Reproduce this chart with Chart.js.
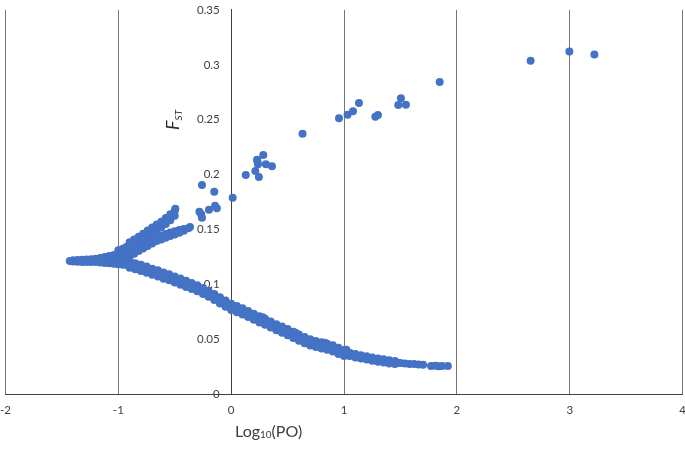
<!DOCTYPE html>
<html>
<head>
<meta charset="utf-8">
<script src="https://cdn.jsdelivr.net/npm/chart.js@4.4.1/dist/chart.umd.min.js"></script>
<style>
  body { margin: 0; background: #fff; overflow: hidden; }
  #wrap { position: relative; width: 685px; height: 452px; overflow: hidden; font-family: Lato, "Open Sans", sans-serif; color: #404040; }
  #fst-chart { position: absolute; left: -9px; top: 0; }
  #xTitle { position: absolute; left: 235px; top: 421px; font-size: 16px; white-space: nowrap; }
  #xTitle .sub { font-size: 10px; position: relative; top: 1px; }
  #yTitle { position: absolute; left: 172px; top: 120px; font-size: 18px; font-style: italic; white-space: nowrap; color: #262626;
            transform: translate(-50%, -50%) rotate(-90deg); }
  #yTitle .sub { font-size: 10px; position: relative; top: 3px; }
</style>
</head>
<body>
<div id="wrap">
  <canvas id="fst-chart" width="704" height="452"></canvas>
  <div id="xTitle">Log<span class="sub">10</span>(PO)</div>
  <div id="yTitle">F<span class="sub">ST</span></div>
</div>
<script>
// tick labels
const xTickLabels = ['-2', '-1', '0', '1', '2', '3', '4'];
const yTickLabels = ['0', '0.05', '0.1', '0.15', '0.2', '0.25', '0.3', '0.35'];

// [log10(PO), FST]
const highPoints = [
    [0.632, 0.2373], [0.955, 0.2513], [1.031, 0.2546], [1.079, 0.2577], [1.132, 0.2653],
    [1.277, 0.2528], [1.300, 0.2543], [1.480, 0.2634], [1.504, 0.2695], [1.548, 0.2637],
    [1.847, 0.2844], [2.653, 0.3036], [2.996, 0.3121], [3.218, 0.3093]
];

const midPoints = [
    [-0.259, 0.1905], [-0.150, 0.1844], [0.013, 0.1790], [0.129, 0.1996],
    [0.214, 0.2033], [0.245, 0.1978], [0.237, 0.2094], [0.229, 0.2136], [0.233, 0.2120],
    [0.284, 0.2179], [0.307, 0.2094], [0.361, 0.2076],
    [-0.282, 0.1662], [-0.266, 0.1638], [-0.259, 0.1607], [-0.197, 0.1680],
    [-0.143, 0.1717], [-0.127, 0.1693]
];

// left tail, x < -0.9
const tailPoints = [
    [-1.43, 0.1212], [-1.40, 0.1208], [-1.40, 0.1220], [-1.36, 0.1206], [-1.36, 0.1222],
    [-1.32, 0.1205], [-1.32, 0.1225], [-1.28, 0.1205], [-1.28, 0.1227],
    [-1.24, 0.1205], [-1.24, 0.1230], [-1.20, 0.1204], [-1.20, 0.1234],
    [-1.16, 0.1200], [-1.16, 0.1220], [-1.16, 0.1240],
    [-1.12, 0.1196], [-1.12, 0.1223], [-1.12, 0.1250],
    [-1.08, 0.1192], [-1.08, 0.1225], [-1.08, 0.1258],
    [-1.04, 0.1188], [-1.04, 0.1228], [-1.04, 0.1268],
    [-1.00, 0.1184], [-1.00, 0.1232], [-1.00, 0.1280], [-1.00, 0.1310],
    [-0.96, 0.1180], [-0.96, 0.1240], [-0.96, 0.1295], [-0.96, 0.1325],
    [-0.93, 0.1178], [-0.93, 0.1230], [-0.93, 0.1280], [-0.93, 0.1340]
];

// fork where the two upper branches leave
const forkPoints = [
    [-0.90, 0.1250], [-0.90, 0.1290], [-0.90, 0.1335], [-0.90, 0.1385],
    [-0.86, 0.1280], [-0.86, 0.1320], [-0.86, 0.1365], [-0.86, 0.1410],
    [-0.82, 0.1305], [-0.82, 0.1345], [-0.82, 0.1390], [-0.82, 0.1435],
    [-0.78, 0.1328], [-0.78, 0.1368], [-0.78, 0.1418], [-0.78, 0.1462],
    [-0.74, 0.1350], [-0.74, 0.1385], [-0.74, 0.1445], [-0.74, 0.1490],
    [-0.70, 0.1372], [-0.70, 0.1405], [-0.70, 0.1470], [-0.70, 0.1518],
    [-0.66, 0.1395], [-0.66, 0.1425], [-0.66, 0.1495], [-0.66, 0.1545]
];

const branchA = [
    [-0.62, 0.1520], [-0.62, 0.1570], [-0.58, 0.1550], [-0.58, 0.1605],
    [-0.54, 0.1585], [-0.54, 0.1640], [-0.50, 0.1625], [-0.50, 0.1672], [-0.495, 0.1690]
];

const branchB = [
    [-0.62, 0.1410], [-0.62, 0.1445], [-0.58, 0.1425], [-0.58, 0.1460],
    [-0.54, 0.1440], [-0.54, 0.1472], [-0.50, 0.1455], [-0.50, 0.1485],
    [-0.46, 0.1470], [-0.46, 0.1495], [-0.42, 0.1488], [-0.42, 0.1505],
    [-0.38, 0.1512], [-0.365, 0.1522]
];

// main descending branch: upper and lower edge of the band
const lowerBranch = [
    [-0.90, 0.1208], [-0.90, 0.1152], [-0.85, 0.1193], [-0.85, 0.1137],
    [-0.80, 0.1178], [-0.80, 0.1122], [-0.75, 0.1163], [-0.75, 0.1107],
    [-0.70, 0.1143], [-0.70, 0.1087], [-0.65, 0.1128], [-0.65, 0.1072],
    [-0.60, 0.1108], [-0.60, 0.1052], [-0.55, 0.1093], [-0.55, 0.1037],
    [-0.50, 0.1073], [-0.50, 0.1017], [-0.45, 0.1053], [-0.45, 0.0997],
    [-0.40, 0.1033], [-0.40, 0.0977], [-0.35, 0.1013], [-0.35, 0.0957],
    [-0.30, 0.0993], [-0.30, 0.0937], [-0.25, 0.0968], [-0.25, 0.0912],
    [-0.20, 0.0943], [-0.20, 0.0887], [-0.15, 0.0913], [-0.15, 0.0857],
    [-0.10, 0.0883], [-0.10, 0.0827], [-0.05, 0.0853], [-0.05, 0.0797],
    [0.00, 0.0823], [0.00, 0.0767], [0.05, 0.0803], [0.05, 0.0747],
    [0.10, 0.0783], [0.10, 0.0727], [0.15, 0.0758], [0.15, 0.0702],
    [0.20, 0.0733], [0.20, 0.0677], [0.25, 0.0710], [0.25, 0.0654],
    [0.30, 0.0688], [0.30, 0.0632], [0.35, 0.0663], [0.35, 0.0607],
    [0.40, 0.0638], [0.40, 0.0582], [0.45, 0.0616], [0.45, 0.0560],
    [0.50, 0.0593], [0.50, 0.0537], [0.55, 0.0568], [0.55, 0.0512],
    [0.60, 0.0543], [0.60, 0.0487], [0.65, 0.0521], [0.65, 0.0465],
    [0.70, 0.0500], [0.70, 0.0444], [0.75, 0.0485], [0.75, 0.0429],
    [0.80, 0.0473], [0.80, 0.0417], [0.85, 0.0460], [0.85, 0.0404],
    [0.90, 0.0446], [0.90, 0.0390], [0.95, 0.0423], [0.95, 0.0367],
    [1.00, 0.0403], [1.00, 0.0347], [1.05, 0.0377], [1.05, 0.0347],
    [1.10, 0.0365], [1.10, 0.0335], [1.15, 0.0355], [1.15, 0.0325],
    [1.20, 0.0345], [1.20, 0.0315], [1.25, 0.0335], [1.25, 0.0305],
    [1.30, 0.0325], [1.30, 0.0295], [1.35, 0.0318], [1.35, 0.0288],
    [1.40, 0.0310], [1.40, 0.0280], [1.45, 0.0302], [1.45, 0.0274],
    [1.50, 0.0285], [1.54, 0.0280], [1.58, 0.0276], [1.62, 0.0274],
    [1.66, 0.0271], [1.70, 0.0268], [1.77, 0.0256], [1.81, 0.0258],
    [1.84, 0.0255], [1.87, 0.0257], [1.92, 0.0256],
    [0.28, 0.0700], [0.57, 0.0560], [0.83, 0.0468], [1.02, 0.0405]
];

// middle of the same band
const lowerBranchMid = [
    [-0.875, 0.1172], [-0.825, 0.1158], [-0.775, 0.1143], [-0.725, 0.1125],
    [-0.675, 0.1108], [-0.625, 0.1090], [-0.575, 0.1072], [-0.525, 0.1055],
    [-0.475, 0.1035], [-0.425, 0.1015], [-0.375, 0.0995], [-0.325, 0.0975],
    [-0.275, 0.0952], [-0.225, 0.0928], [-0.175, 0.0900], [-0.125, 0.0870],
    [-0.075, 0.0840], [-0.025, 0.0810], [0.025, 0.0785], [0.075, 0.0765],
    [0.125, 0.0742], [0.175, 0.0718], [0.225, 0.0694], [0.275, 0.0671],
    [0.325, 0.0648], [0.375, 0.0622], [0.425, 0.0599], [0.475, 0.0576],
    [0.525, 0.0552], [0.575, 0.0528], [0.625, 0.0504], [0.675, 0.0482],
    [0.725, 0.0465], [0.775, 0.0451], [0.825, 0.0438], [0.875, 0.0425],
    [0.925, 0.0406], [0.975, 0.0385], [1.025, 0.0368], [1.075, 0.0356],
    [1.125, 0.0345], [1.175, 0.0335], [1.225, 0.0325], [1.275, 0.0315],
    [1.325, 0.0306], [1.375, 0.0299], [1.425, 0.0291], [1.475, 0.0286]
];

const allPoints = [...highPoints, ...midPoints, ...tailPoints, ...forkPoints,
    ...branchA, ...branchB, ...lowerBranch, ...lowerBranchMid].map(p => ({ x: p[0], y: p[1] }));

const fontFamily = 'Lato, "Open Sans", sans-serif';

new Chart(document.getElementById('fst-chart'), {
    type: 'scatter',
    data: {
        datasets: [{
            data: allPoints,
            backgroundColor: '#4472C4',
            borderColor: '#4472C4',
            borderWidth: 0,
            pointRadius: 4
        }]
    },
    options: {
        responsive: false,
        animation: false,
        layout: { padding: { top: 0, bottom: 26, left: 0, right: 0 } },
        plugins: {
            legend: { display: false },
            tooltip: { enabled: false }
        },
        scales: {
            x: {
                type: 'linear',
                min: -2,
                max: 4,
                ticks: {
                    stepSize: 1,
                    padding: 9,
                    color: '#404040',
                    font: { family: fontFamily, size: 11.5 },
                    callback: (v) => xTickLabels[v + 2]
                },
                grid: { color: '#767676', lineWidth: 1, drawTicks: false },
                border: { color: '#404040', width: 1 }
            },
            y: {
                type: 'linear',
                position: { x: 0 },
                min: 0,
                max: 0.35,
                ticks: {
                    stepSize: 0.05,
                    color: '#404040',
                    font: { family: fontFamily, size: 11.5 },
                    // labels sit right against an axis placed at x = 0, so pad them with two en spaces
                    callback: (v, i) => yTickLabels[i] + '\u2002\u2002'
                },
                grid: { display: false, drawTicks: false },
                border: { color: '#404040', width: 1 }
            }
        }
    }
});
</script>
</body>
</html>
